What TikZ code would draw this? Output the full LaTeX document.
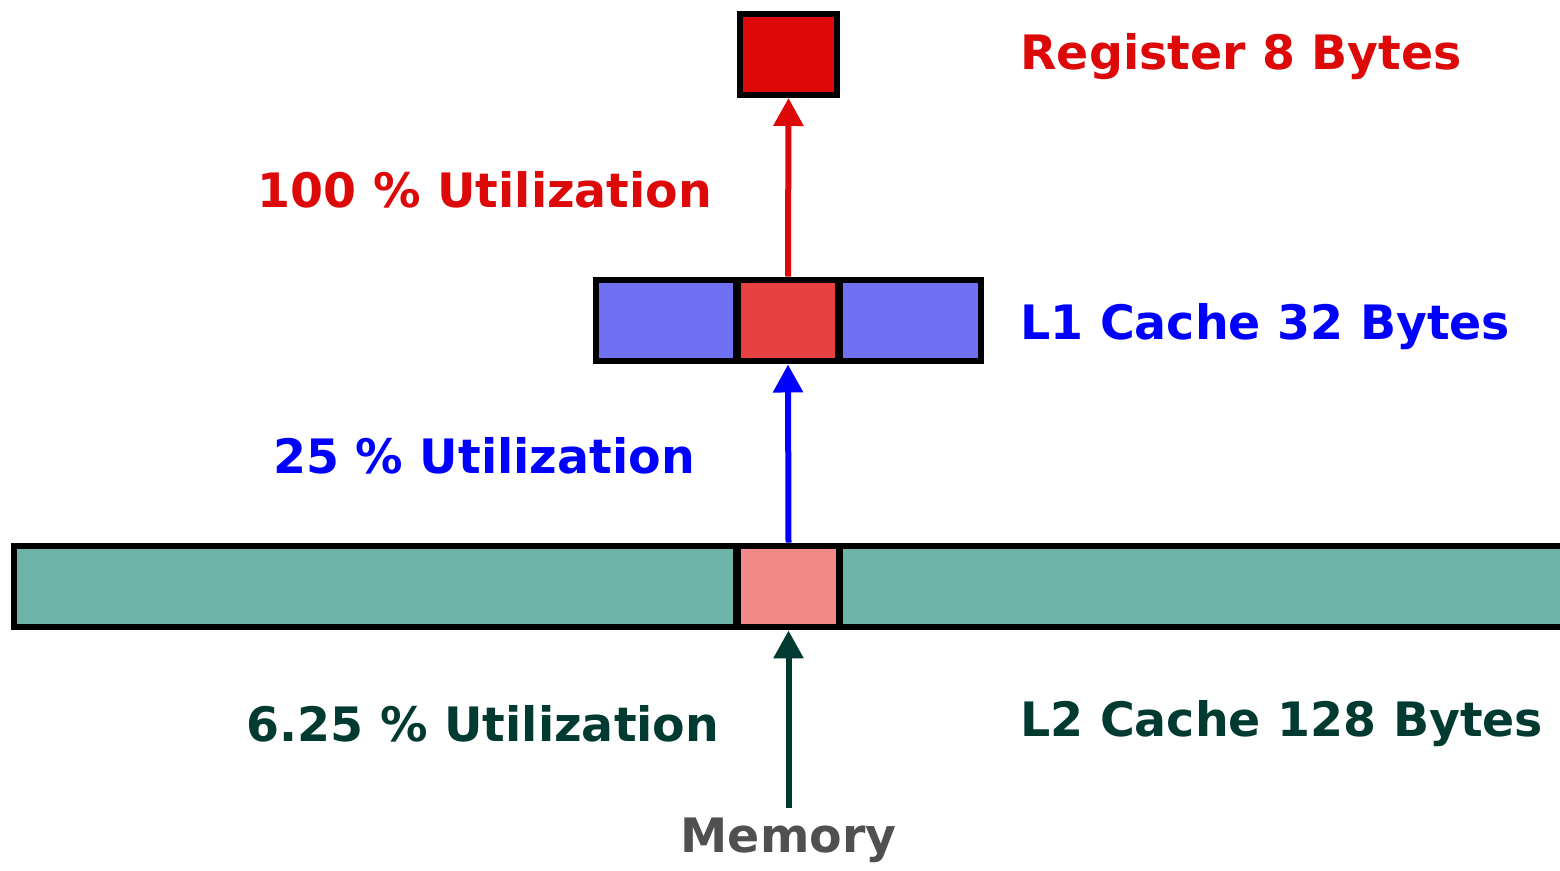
\documentclass[tikz,border=0pt]{standalone}
\usepackage{fontspec}
\setmainfont{DejaVu Sans}
\usetikzlibrary{arrows.meta, positioning}

\definecolor{regred}{HTML}{DD0808}
\definecolor{lonefill}{HTML}{7070F2}
\definecolor{lonered}{HTML}{E64040}
\definecolor{ltwofill}{HTML}{6DB3A8}
\definecolor{ltwored}{HTML}{F28A8A}
\definecolor{ltwoink}{HTML}{003A30}
\definecolor{memink}{HTML}{505050}

\begin{document}
\begin{tikzpicture}[
  x=0.02cm, y=-0.02cm,
  font=\bfseries\fontsize{27}{32}\selectfont,
  cell/.style={draw, line width=0.12cm, inner sep=0pt, minimum height=1.64cm},
  lbl/.style={inner sep=0pt},
  up/.style={-{Triangle[length=0.56cm, width=0.58cm]}, line width=0.12cm}
]
\useasboundingbox (0,0) rectangle (1560,871);

% register
\node[cell, fill=regred, minimum width=1.96cm, minimum height=1.62cm] (reg) at (788.5,54.5) {};

% L1 cache
\node[cell, fill=lonefill, minimum width=2.8cm] (l1a) at (666,320.5) {};
\node[cell, fill=lonered, minimum width=2.0cm] (l1b) at (788,320.5) {};
\node[cell, fill=lonefill, minimum width=2.82cm] (l1c) at (910.5,320.5) {};

% L2 cache
\node[cell, fill=ltwofill, minimum width=14.44cm] (l2a) at (375,586.5) {};
\node[cell, fill=ltwofill, minimum width=15.2cm] (l2c) at (1220,586.5) {};
\node[cell, fill=ltwored, minimum width=2.02cm] (l2b) at (788.5,586.5) {};

\coordinate (mem) at (788.5,808);

% labels
\node[lbl, text=regred, anchor=west] (treg) at (1020,57) {Register 8 Bytes};
\node[lbl, text=regred] (ureg) at (485,190) {100 \% Utilization};
\node[lbl, text=blue, anchor=west] (tl1) at (1020,327) {L1 Cache 32 Bytes};
\node[lbl, text=blue] (ul1) at (484,456) {25 \% Utilization};
\node[lbl, text=ltwoink, anchor=west] (tl2) at (1020,724) {L2 Cache 128 Bytes};
\node[lbl, text=ltwoink] (ul2) at (483,724) {6.25 \% Utilization};
\node[lbl, text=memink] (tmem) at (788.5,840) {Memory};

% arrows
\draw[up, regred] (l1b.north) -- (reg.south);
\draw[up, blue] (l2b.north) -- (l1b.south);
\draw[up, ltwoink] (mem) -- (l2b.south);
\end{tikzpicture}
\end{document}
